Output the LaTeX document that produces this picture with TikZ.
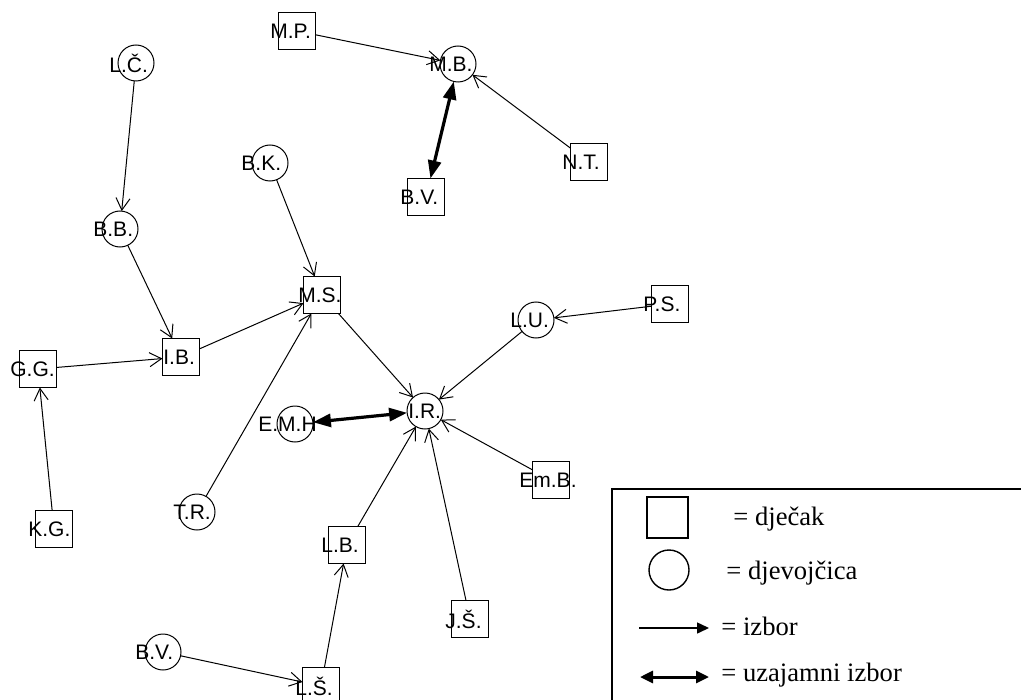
\documentclass[tikz,border=0pt]{standalone}
\usepackage{fontspec}
\setmainfont{Liberation Serif}
\setsansfont{Liberation Sans}
\usetikzlibrary{arrows.meta}

\begin{document}
\begin{tikzpicture}[x=0.5pt,y=-0.5pt,>={Straight Barb[length=6pt,width=7pt]},
	boy/.style={draw,rectangle,minimum size=18.5pt,inner sep=0pt,outer sep=0pt,line width=0.6pt},
	girl/.style={draw,circle,minimum size=18pt,inner sep=0pt,outer sep=0pt,line width=0.5pt},
	tag/.style={anchor=west,inner sep=0pt,font=\sffamily\fontsize{10.5}{12}\selectfont},
	choice/.style={->,line width=0.5pt},
	mutual/.style={{Triangle[length=9pt,width=6.5pt]}-{Triangle[length=9pt,width=6.5pt]},line width=1.6pt},
	key/.style={anchor=base west,inner sep=0pt,font=\fontsize{13.3}{15}\selectfont}]
		
		\useasboundingbox (0,0) rectangle (1021,700);
		
		% djecaci
		\node[boy] (mp) at (297,31) {};
		\node[boy] (nt) at (589,162) {};
		\node[boy] (bv) at (426,197) {};
		\node[boy] (ms) at (322,295) {};
		\node[boy] (ib) at (181,357) {};
		\node[boy] (gg) at (38,369) {};
		\node[boy] (kg) at (54,529) {};
		\node[boy] (ps) at (670,304) {};
		\node[boy] (emb) at (551,480) {};
		\node[boy] (lb) at (347,545) {};
		\node[boy] (js) at (470,619) {};
		\node[boy] (ls) at (321,686) {};
		
		% djevojcice
		\node[girl] (mb) at (458,64) {};
		\node[girl] (bk) at (270,163) {};
		\node[girl] (lc) at (136,63) {};
		\node[girl] (bb) at (120,229) {};
		\node[girl] (lu) at (536,320) {};
		\node[girl] (ir) at (425,411) {};
		\node[girl] (emh) at (295,424) {};
		\node[girl] (tr) at (197,512) {};
		\node[girl] (bvc) at (163,652) {};
		
		% imena
		\node[tag] (mp-l) at ([xshift=-13.5pt]mp.center) {M.P.};
		\node[tag] (nt-l) at ([xshift=-13.5pt]nt.center) {N.T.};
		\node[tag] (bv-l) at ([xshift=-13pt]bv.center) {B.V.};
		\node[tag] (ms-l) at ([xshift=-12pt]ms.center) {M.S.};
		\node[tag] (ib-l) at ([xshift=-9pt]ib.center) {I.B.};
		\node[tag] (gg-l) at ([xshift=-14pt]gg.center) {G.G.};
		\node[tag] (kg-l) at ([xshift=-13pt]kg.center) {K.G.};
		\node[tag] (ps-l) at ([xshift=-13.5pt]ps.center) {P.S.};
		\node[tag] (emb-l) at ([xshift=-16pt]emb.center) {Em.B.};
		\node[tag] (lb-l) at ([xshift=-13pt]lb.center) {L.B.};
		\node[tag] (js-l) at ([xshift=-12.5pt]js.center) {J.Š.};
		\node[tag] (ls-l) at ([xshift=-13pt]ls.center) {L.Š.};
		\node[tag] (mb-l) at ([xshift=-14.5pt]mb.center) {M.B.};
		\node[tag] (bk-l) at ([xshift=-14.5pt]bk.center) {B.K.};
		\node[tag] (lc-l) at ([xshift=-13.5pt]lc.center) {L.Č.};
		\node[tag] (bb-l) at ([xshift=-13.5pt]bb.center) {B.B.};
		\node[tag] (lu-l) at ([xshift=-13pt]lu.center) {L.U.};
		\node[tag] (ir-l) at ([xshift=-8.5pt]ir.center) {I.R.};
		\node[tag] (emh-l) at ([xshift=-18.5pt]emh.center) {E.M.H};
		\node[tag] (tr-l) at ([xshift=-12pt]tr.center) {T.R.};
		\node[tag] (bvc-l) at ([xshift=-14pt]bvc.center) {B.V.};
		
		\path[choice]
		(mp) edge (mb)
		(nt) edge (mb)
		(lc) edge (bb)
		(bb) edge (ib)
		(gg) edge (ib)
		(kg) edge (gg)
		(ib) edge (ms)
		(bk) edge (ms)
		(tr) edge (ms)
		(ms) edge (ir)
		(lu) edge (ir)
		(ps) edge (lu)
		(emb) edge (ir)
		(lb) edge (ir)
		(js) edge (ir)
		(ls) edge (lb)
		(bvc) edge (ls);
		
		\draw[mutual] (bv) -- (mb);
		\draw[mutual] (emh) -- (ir);
		
		% legenda
		\draw[line width=1pt] (612,489) rectangle (1040,720);
		\node[boy, minimum size=20.5pt, line width=0.7pt] (keyboy) at (667.5,517.5) {};
		\node[girl, minimum size=20pt, line width=0.7pt] (keygirl) at (669,570) {};
		\node[key] (keyboytext) at (733,525.7) {= dječak};
		\node[key] (keygirltext) at (726,579) {= djevojčica};
		\coordinate (a1) at (639,628);
		\coordinate (a2) at (709,628);
		\coordinate (b1) at (640,677);
		\coordinate (b2) at (709,677);
		\draw[-{Triangle[length=6pt,width=5.5pt]}, line width=0.75pt] (a1) -- (a2);
		\draw[{Triangle[length=6.5pt,width=6pt]}-{Triangle[length=6.5pt,width=6pt]}, line width=1.5pt] (b1) -- (b2);
		\node[key] (choicetext) at (721,635) {= izbor};
		\node[key] (mutualtext) at (721,681.7) {= uzajamni izbor};
		
		\end{tikzpicture}
\end{document}
